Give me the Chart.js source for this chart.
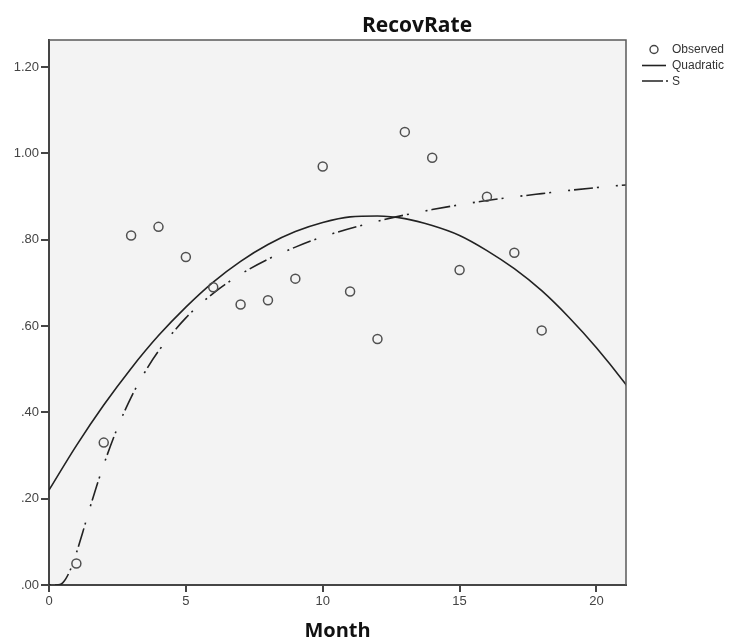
<!DOCTYPE html>
<html>
<head>
<meta charset="utf-8">
<title>RecovRate</title>
<script src="https://cdn.jsdelivr.net/npm/chart.js@4.4.1/dist/chart.umd.min.js"></script>
<style>
  html, body { margin: 0; padding: 0; background: #fff; }
  #wrap { width: 733px; height: 640px; }
</style>
</head>
<body>
<div id="wrap"><canvas id="curve-chart" width="733" height="640"></canvas></div>
<script>
// observed recovery rate per month
var obsMonth = [1, 2, 3, 4, 5, 6, 7, 8, 9, 10, 11, 12, 13, 14, 15, 16, 17, 18];
var obsRate = [0.05, 0.33, 0.81, 0.83, 0.76, 0.69, 0.65, 0.66, 0.71, 0.97, 0.68, 0.57, 1.05, 0.99, 0.73, 0.90, 0.77, 0.59];

// quadratic fit
var quadMonth = [0, 1, 2, 3, 4, 5, 6, 7, 8, 9, 10, 11, 12, 13, 14, 15, 16, 17, 18, 19, 20, 21, 22];
var quadRate = [0.220, 0.323, 0.417, 0.502, 0.578, 0.644, 0.702, 0.750, 0.789, 0.819, 0.840, 0.853, 0.855,
                0.849, 0.833, 0.810, 0.775, 0.733, 0.682, 0.620, 0.550, 0.471, 0.383];

// S fit
var sMonth = [0, 0.25, 0.4, 0.5, 0.6, 0.75, 0.9, 1, 1.25, 1.5, 1.75, 2, 2.5, 3, 3.5, 4, 5, 6, 7, 8, 9, 10, 12, 14, 16, 18, 20, 22];
var sRate = [0, 0, 0.001, 0.005, 0.013, 0.031, 0.055, 0.074, 0.126, 0.180, 0.231, 0.279, 0.364, 0.435, 0.493,
             0.542, 0.619, 0.676, 0.720, 0.755, 0.783, 0.807, 0.843, 0.870, 0.891, 0.907, 0.921, 0.932];

var xTickValues = [0, 5, 10, 15, 20];
var yTickValues = [0, 0.2, 0.4, 0.6, 0.8, 1.0, 1.2];
var yTickLabels = [".00", ".20", ".40", ".60", ".80", "1.00", "1.20"];

var legendLabels = ["Observed", "Quadratic", "S"];

function toPoints(xs, ys) {
  var out = [];
  for (var i = 0; i < xs.length; i++) out.push({ x: xs[i], y: ys[i] });
  return out;
}

var AXIS = "#454545";
var TICK_FONT = { family: "'Liberation Sans', Arial, sans-serif", size: 13 };
var S_DASH = [2, 4, 19, 4, 2, 17];

// plot background, frame, title and legend (SPSS look)
var spssDecor = {
  id: "spssDecor",
  beforeDraw: function(chart) {
    var a = chart.chartArea, ctx = chart.ctx;
    ctx.save();
    ctx.fillStyle = "#f3f3f3";
    ctx.fillRect(a.left, a.top, a.right - a.left, a.bottom - a.top);
    ctx.restore();
  },
  afterDraw: function(chart) {
    var a = chart.chartArea, ctx = chart.ctx;
    ctx.save();
    // top + right frame
    ctx.strokeStyle = "#5a5a5a";
    ctx.lineWidth = 1.5;
    ctx.beginPath();
    ctx.moveTo(a.left, a.top);
    ctx.lineTo(a.right, a.top);
    ctx.lineTo(a.right, a.bottom);
    ctx.stroke();

    // chart title
    ctx.fillStyle = "#111";
    ctx.font = "bold 21px 'Open Sans', sans-serif";
    ctx.textAlign = "center";
    ctx.textBaseline = "alphabetic";
    ctx.fillText("RecovRate", 417, 32);
    // x axis title
    ctx.font = "bold 20px 'Open Sans', sans-serif";
    ctx.fillText("Month", (a.left + a.right) / 2, 637);

    // legend
    var lx = a.right + 16, tx = a.right + 46;
    ctx.font = "12px 'Liberation Sans', Arial, sans-serif";
    ctx.textAlign = "left";
    ctx.textBaseline = "middle";
    ctx.fillStyle = "#333";
    ctx.strokeStyle = "#444";
    ctx.lineWidth = 1.4;
    ctx.beginPath();
    ctx.arc(a.right + 28, 49.5, 4, 0, Math.PI * 2);
    ctx.stroke();
    ctx.fillText(legendLabels[0], tx, 50);

    ctx.strokeStyle = "#222";
    ctx.lineWidth = 1.6;
    ctx.beginPath();
    ctx.moveTo(lx, 65.5);
    ctx.lineTo(lx + 24, 65.5);
    ctx.stroke();
    ctx.fillText(legendLabels[1], tx, 66);

    ctx.setLineDash([21, 3, 2, 10]);
    ctx.beginPath();
    ctx.moveTo(lx, 81);
    ctx.lineTo(lx + 26, 81);
    ctx.stroke();
    ctx.setLineDash([]);
    ctx.fillText(legendLabels[2], tx, 81.5);
    ctx.restore();
  }
};

var ctx = document.getElementById("curve-chart").getContext("2d");
new Chart(ctx, {
  type: "scatter",
  data: {
    datasets: [{
      label: legendLabels[0],
      data: toPoints(obsMonth, obsRate),
      pointStyle: "circle",
      pointRadius: 4.5,
      pointBorderWidth: 1.5,
      pointBorderColor: "#505050",
      pointBackgroundColor: "rgba(0,0,0,0)",
      showLine: false
    }, {
      label: legendLabels[1],
      data: toPoints(quadMonth, quadRate),
      showLine: true,
      borderColor: "#222",
      borderWidth: 1.6,
      pointRadius: 0,
      cubicInterpolationMode: "monotone",
      fill: false
    }, {
      label: legendLabels[2],
      data: toPoints(sMonth, sRate),
      showLine: true,
      borderColor: "#222",
      borderWidth: 1.6,
      borderDash: S_DASH,
      pointRadius: 0,
      cubicInterpolationMode: "monotone",
      fill: false
    }]
  },
  options: {
    responsive: false,
    animation: false,
    layout: { padding: { top: 40, right: 107, left: 0, bottom: 0 } },
    plugins: {
      legend: { display: false },
      title: { display: false },
      tooltip: { enabled: false }
    },
    scales: {
      x: {
        type: "linear",
        min: 0,
        max: 21.08,
        afterBuildTicks: function(s) { s.ticks = xTickValues.map(function(v) { return { value: v }; }); },
        afterFit: function(s) { s.height = 55; },
        grid: { drawOnChartArea: false, color: AXIS, lineWidth: 2, tickLength: 7 },
        border: { display: true, color: AXIS, width: 2 },
        ticks: { color: "#444", font: TICK_FONT, padding: 2, maxRotation: 0, autoSkip: false }
      },
      y: {
        type: "linear",
        min: 0,
        max: 1.263,
        afterBuildTicks: function(s) { s.ticks = yTickValues.map(function(v) { return { value: v }; }); },
        afterFit: function(s) { s.width = 49; },
        grid: { drawOnChartArea: false, color: AXIS, lineWidth: 2, tickLength: 8 },
        border: { display: true, color: AXIS, width: 2 },
        ticks: {
          color: "#444", font: TICK_FONT, padding: 2, autoSkip: false,
          callback: function(v) {
            var i = yTickValues.indexOf(v);
            return i >= 0 ? yTickLabels[i] : "";
          }
        }
      }
    }
  },
  plugins: [spssDecor]
});
</script>
</body>
</html>
